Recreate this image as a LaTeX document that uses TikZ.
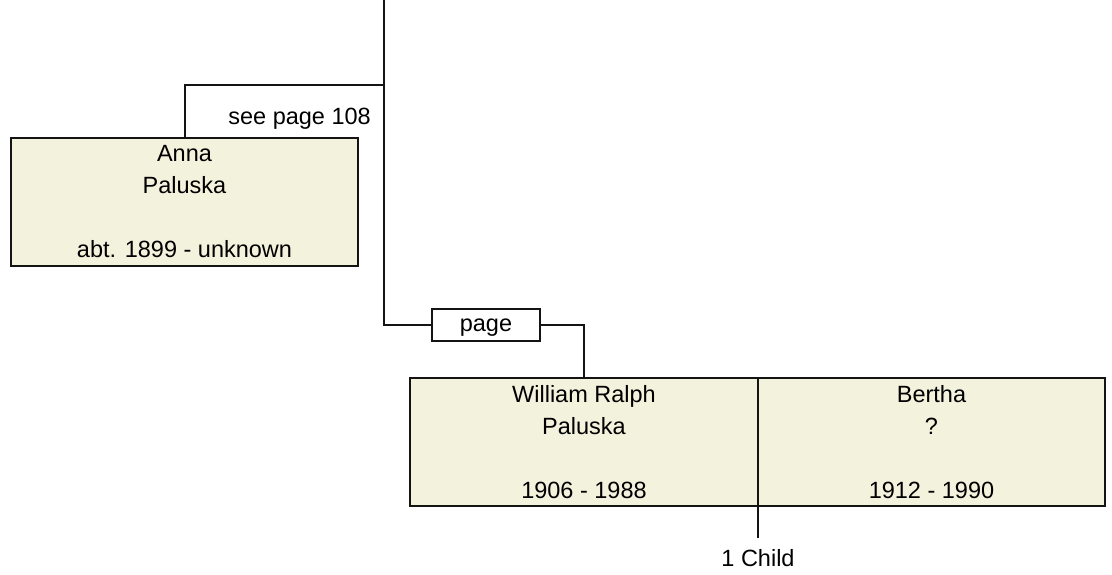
\documentclass[tikz,border=0pt]{standalone}
\usepackage{fontspec}
\setmainfont{Liberation Sans}
\usetikzlibrary{positioning,calc}
\definecolor{personfill}{RGB}{243,242,220}
\definecolor{lineclr}{RGB}{20,20,20}

\begin{document}
\begin{tikzpicture}[x=1pt, y=-1pt,
    link/.style = {draw=lineclr, line width=2pt},
    person/.style = {rectangle, draw=lineclr, line width=2pt, fill=personfill, inner sep=0pt, outer sep=0pt},
    persontext/.style = {align=center, inner sep=0pt, font=\fontsize{23.5}{32}\selectfont, text=black},
    label/.style = {inner sep=0pt, font=\fontsize{23.5}{28}\selectfont},
    pagebox/.style = {rectangle, draw=lineclr, line width=2pt, fill=white, minimum width=108pt, minimum height=32pt, inner sep=0pt, text height=14pt, text depth=2pt, font=\fontsize{23.5}{28}\selectfont}]
\useasboundingbox (0,0) rectangle (1112,575);

% people
\node [person, minimum width=347pt, minimum height=128pt] (annaBox) at (184.5,202) {};
\node [persontext, anchor=north] (annaText) at ($(annaBox.north)+(0,7)$) {Anna\\Paluska\\\strut\\abt. 1899 - unknown};
\node [person, minimum width=348pt, minimum height=128pt] (williamBox) at (584,442) {};
\node [person, minimum width=347pt, minimum height=128pt, anchor=west] (berthaBox) at (williamBox.east) {};
\node [persontext, anchor=north] (williamText) at ($(williamBox.north)+(0,7)$) {William Ralph\\Paluska\\\strut\\1906 - 1988};
\node [persontext, anchor=north] (berthaText) at ($(berthaBox.north)+(0,7)$) {Bertha\\?\\\strut\\1912 - 1990};

% links
\coordinate (topEnd) at (384,0);
\coordinate (annaJoin) at (384,85);
\node [pagebox] (pageBox) at (486,325) {page};
\node [label, anchor=base east] (seePage) at (371,125) {see page 108};
\draw [link] (topEnd) |- (pageBox.west);
\draw [link] (annaBox.north) |- (annaJoin);
\draw [link] (pageBox.east) -| (williamBox.north);
\coordinate (childEnd) at ($(williamBox.south east)+(0,32)$);
\draw [link] (williamBox.south east) -- (childEnd);
\node [label, anchor=base] (childCount) at ($(childEnd)+(0,28)$) {1 Child};
\end{tikzpicture}
\end{document}
